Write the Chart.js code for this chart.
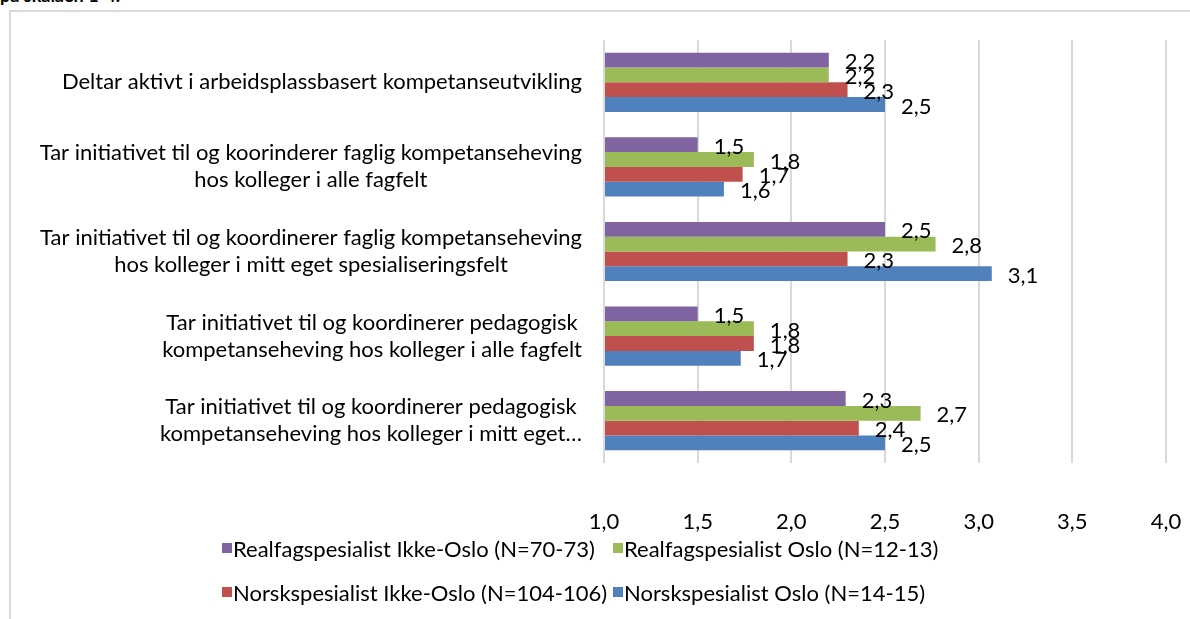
<!DOCTYPE html>
<html>
<head>
<meta charset="utf-8">
<script src="https://cdn.jsdelivr.net/npm/chart.js@4.4.1/dist/chart.umd.min.js"></script>
<style>
  html, body { margin: 0; padding: 0; background: #fff; }
  body { width: 1190px; height: 619px; position: relative; overflow: hidden; font-family: Lato, "Open Sans", sans-serif; }
  .heading { position: absolute; left: 0; top: -15px; font-size: 18px; font-weight: bold; color: #000; line-height: 20px; }
  .frame { position: absolute; left: 9px; top: 10px; width: 1300px; height: 700px; border-top: 2px solid #d9d9d9; border-left: 2px solid #d9d9d9; }
  .wrap { position: absolute; left: 0; top: 0; width: 1190px; height: 619px; }
  .legend { position: absolute; left: 222px; top: 536px; display: grid; grid-template-columns: 391px auto; row-gap: 20px; font-size: 22px; color: #000; }
  .legend span { display: flex; align-items: center; white-space: nowrap; height: 24px; }
  .legend i { display: inline-block; width: 10px; height: 10px; margin-right: 1px; }
</style>
</head>
<body>
<div class="heading">på skalaen 1-4.</div>
<div class="frame"></div>
<div class="wrap"><canvas id="chart" width="1190" height="619"></canvas></div>
<div class="legend" id="legend"></div>
<script>
// categories (one entry per line of the axis label)
const categories = [
  ['Deltar aktivt i arbeidsplassbasert kompetanseutvikling'],
  ['Tar initiativet til og koorinderer faglig kompetanseheving', 'hos kolleger i alle fagfelt'],
  ['Tar initiativet til og koordinerer faglig kompetanseheving', 'hos kolleger i mitt eget spesialiseringsfelt'],
  ['Tar initiativet til og koordinerer pedagogisk', 'kompetanseheving hos kolleger i alle fagfelt'],
  ['Tar initiativet til og koordinerer pedagogisk', 'kompetanseheving hos kolleger i mitt eget…']
];

const seriesNames = [
  'Realfagspesialist Ikke-Oslo (N=70-73)',
  'Realfagspesialist Oslo (N=12-13)',
  'Norskspesialist Ikke-Oslo (N=104-106)',
  'Norskspesialist Oslo (N=14-15)'
];
const seriesColors = ['#8064A2', '#9BBB59', '#C0504D', '#4F81BD'];

const realIkkeOslo = [2.20, 1.50, 2.50, 1.50, 2.29];
const realOslo     = [2.20, 1.80, 2.77, 1.80, 2.69];
const norskIkkeOslo = [2.30, 1.74, 2.30, 1.80, 2.36];
const norskOslo    = [2.50, 1.64, 3.07, 1.73, 2.50];

const xTicks = [1.0, 1.5, 2.0, 2.5, 3.0, 3.5, 4.0];

const fontFamily = 'Lato, "Open Sans", sans-serif';
const fontSize = 22;
const fmt = v => v.toFixed(1).replace('.', ',');

// value labels at the end of each bar
const valueLabels = {
  id: 'valueLabels',
  afterDatasetsDraw(chart) {
    const ctx = chart.ctx;
    ctx.save();
    ctx.font = fontSize + 'px ' + fontFamily;
    ctx.fillStyle = '#000';
    ctx.textAlign = 'left';
    ctx.textBaseline = 'middle';
    chart.data.datasets.forEach((ds, i) => {
      chart.getDatasetMeta(i).data.forEach((bar, j) => {
        ctx.fillText(fmt(ds.data[j]), bar.x + 16, bar.y + 2);
      });
    });
    ctx.restore();
  }
};

// category labels: block right aligned to the axis, lines centred in the block
const categoryLabels = {
  id: 'categoryLabels',
  afterDraw(chart) {
    const ctx = chart.ctx;
    const y = chart.scales.y;
    const right = chart.chartArea.left - 22;
    const lineH = 27;
    ctx.save();
    ctx.font = fontSize + 'px ' + fontFamily;
    ctx.fillStyle = '#000';
    ctx.textAlign = 'center';
    ctx.textBaseline = 'middle';
    categories.forEach((lines, i) => {
      const w = Math.max(...lines.map(l => ctx.measureText(l).width));
      const cx = right - w / 2;
      const cy = y.getPixelForValue(i);
      lines.forEach((l, k) => {
        ctx.fillText(l, cx, cy + (k - (lines.length - 1) / 2) * lineH);
      });
    });
    ctx.restore();
  }
};

const seriesData = [realIkkeOslo, realOslo, norskIkkeOslo, norskOslo];

new Chart(document.getElementById('chart'), {
  type: 'bar',
  data: {
    labels: categories.map(c => c.join(' ')),
    datasets: seriesData.map((d, i) => ({
      label: seriesNames[i],
      data: d,
      backgroundColor: seriesColors[i],
      borderWidth: 0,
      categoryPercentage: 0.7,
      barPercentage: 1.0,
      base: 1
    }))
  },
  options: {
    indexAxis: 'y',
    responsive: false,
    animation: false,
    layout: { padding: { left: 0, right: 24, top: 40, bottom: 0 } },
    plugins: {
      legend: { display: false },
      tooltip: { enabled: false }
    },
    scales: {
      x: {
        type: 'linear',
        min: 1,
        max: 4,
        afterBuildTicks: scale => { scale.ticks = xTicks.map(v => ({ value: v })); },
        afterFit: scale => { scale.height = 156; scale.paddingRight = 0; scale.paddingLeft = 0; },
        grid: { color: '#d9d9d9', lineWidth: 2, drawTicks: false },
        border: { display: false },
        ticks: {
          padding: 46,
          color: '#000',
          maxRotation: 0,
          font: { family: fontFamily, size: fontSize },
          callback: v => fmt(v)
        }
      },
      y: {
        afterFit: scale => { scale.width = 604; },
        grid: { display: false },
        border: { display: false },
        ticks: { display: false }
      }
    }
  },
  plugins: [valueLabels, categoryLabels]
});

// legend laid out in two columns like the original
const legend = document.getElementById('legend');
seriesNames.forEach((name, i) => {
  const s = document.createElement('span');
  s.innerHTML = '<i style="background:' + seriesColors[i] + '"></i>' + name;
  legend.appendChild(s);
});
</script>
</body>
</html>
